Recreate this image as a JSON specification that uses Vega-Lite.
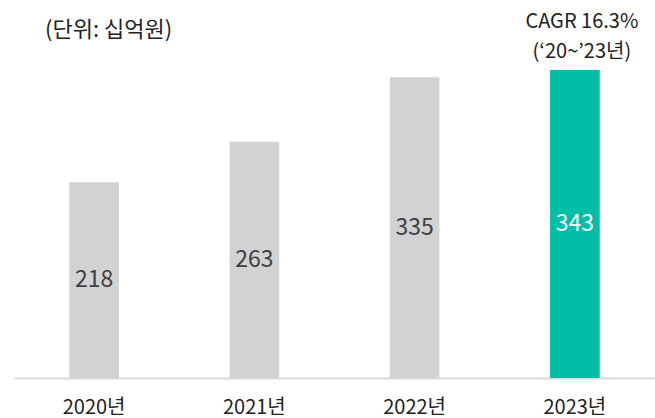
{
  "$schema": "https://vega.github.io/schema/vega-lite/v6.json",
  "width": 641,
  "height": 308,
  "autosize": {"type": "none"},
  "padding": {"left": 14, "top": 70, "right": 0, "bottom": 40},
  "background": "white",
  "config": {"view": {"stroke": null}, "font": "Noto Sans CJK KR"},
  "title": {"text": "(단위: 십억원)", "anchor": "start", "frame": "group", "offset": -30, "dx": 31, "fontSize": 22, "fontWeight": "normal", "color": "#222222", "font": "Noto Sans CJK KR"},
  "data": {"values": [
    {"year": "2020년", "value": 218, "hl": "no"},
    {"year": "2021년", "value": 263, "hl": "no"},
    {"year": "2022년", "value": 335, "hl": "no"},
    {"year": "2023년", "value": 343, "hl": "yes"}
  ]},
  "encoding": {
    "x": {"field": "year", "type": "nominal", "sort": null,
      "scale": {"paddingInner": 0.69, "paddingOuter": 0.345},
      "axis": {"title": null, "ticks": false, "labelAngle": 0, "labelFontSize": 20, "labelColor": "#222222", "labelPadding": 19, "domainColor": "#d9d9d9", "domainWidth": 2, "labelFont": "Noto Sans CJK KR"}}
  },
  "layer": [
    {
      "mark": {"type": "bar"},
      "encoding": {
        "y": {"field": "value", "type": "quantitative", "scale": {"domain": [0, 343], "nice": false}, "axis": null},
        "color": {"field": "hl", "type": "nominal", "scale": {"domain": ["no", "yes"], "range": ["#d1d2d4", "#00bfa6"]}, "legend": null}
      }
    },
    {
      "transform": [{"calculate": "datum.value / 2", "as": "mid"}],
      "mark": {"type": "text", "fontSize": 23, "baseline": "middle"},
      "encoding": {
        "y": {"field": "mid", "type": "quantitative", "scale": {"domain": [0, 343], "nice": false}},
        "text": {"field": "value", "type": "quantitative"},
        "color": {"field": "hl", "type": "nominal", "scale": {"domain": ["no", "yes"], "range": ["#404040", "#ffffff"]}, "legend": null}
      }
    },
    {
      "transform": [{"filter": "datum.hl === 'yes'"}],
      "mark": {"type": "text", "fontSize": 20, "baseline": "bottom", "align": "center", "dx": 7, "dy": -38, "lineHeight": 30, "color": "#222222"},
      "encoding": {
        "y": {"field": "value", "type": "quantitative", "scale": {"domain": [0, 343], "nice": false}},
        "text": {"value": ["CAGR 16.3%", "(‘20~’23년)"]}
      }
    }
  ],
  "resolve": {"scale": {"color": "independent"}}
}
